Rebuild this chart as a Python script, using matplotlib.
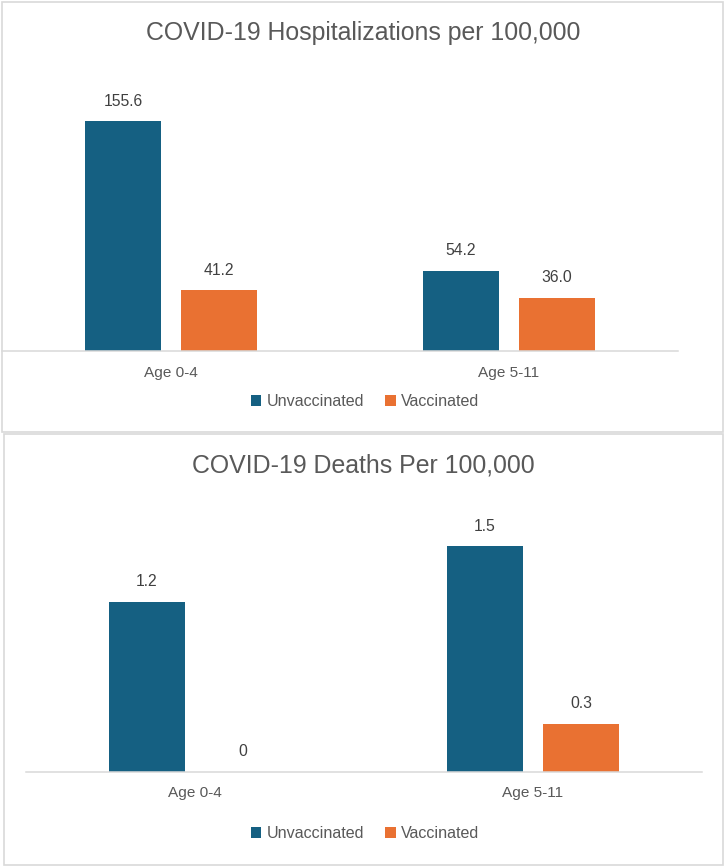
import matplotlib
matplotlib.use("Agg")
import matplotlib.pyplot as plt
from matplotlib.patches import Rectangle, Patch
import numpy as np

plt.rcParams['font.family'] = ['Liberation Sans', 'DejaVu Sans']

categories = ["Age 0-4", "Age 5-11"]
series_names = ["Unvaccinated", "Vaccinated"]

hosp_unvacc = [155.6, 54.2]
hosp_vacc = [41.2, 36.0]
hosp_unvacc_labels = ["155.6", "54.2"]
hosp_vacc_labels = ["41.2", "36.0"]

death_unvacc = [1.16, 1.54]
death_vacc = [0.0, 0.33]
death_unvacc_labels = ["1.2", "1.5"]
death_vacc_labels = ["0", "0.3"]

title_top = "COVID-19 Hospitalizations per 100,000"
title_bottom = "COVID-19 Deaths Per 100,000"

C_UN = "#156082"
C_VA = "#E97132"
GRID = "#d9d9d9"
TXT = "#595959"
LBL = "#404040"

W, H = 726, 866
fig = plt.figure(figsize=(W / 100, H / 100), dpi=100)


def fx(px):
    return px / W


def fy(py):
    return 1 - py / H


# panel borders
for (x0, y0, x1, y1) in [(2, 2, 723, 432), (4, 434, 723, 865)]:
    fig.patches.append(Rectangle((fx(x0), fy(y1)), fx(x1) - fx(x0), fy(y0) - fy(y1),
                                 transform=fig.transFigure, fill=False,
                                 edgecolor=GRID, linewidth=1.2, zorder=0))


def panel(left, right, axis_y, top_y, ymax, un, va, un_lab, va_lab, title, title_y,
          cat_y, leg_y):
    ax = fig.add_axes([fx(left), fy(axis_y), fx(right) - fx(left), fy(top_y) - fy(axis_y)])
    x = np.arange(len(categories))
    bw = 76 / 338
    off = 48 / 338
    b1 = ax.bar(x - off, un, bw, color=C_UN, zorder=2)
    b2 = ax.bar(x + off, va, bw, color=C_VA, zorder=2)
    for bars, labs in [(b1, un_lab), (b2, va_lab)]:
        for r, lab in zip(bars, labs):
            ax.annotate(lab, (r.get_x() + r.get_width() / 2, r.get_height()),
                        xytext=(0, 14.4), textcoords="offset points",
                        ha="center", va="center", fontsize=11.3, color=LBL)
    ax.set_xlim(-0.5, len(categories) - 0.5)
    ax.set_ylim(0, ymax)
    for s in ["top", "right", "left"]:
        ax.spines[s].set_visible(False)
    ax.spines["bottom"].set_color(GRID)
    ax.spines["bottom"].set_linewidth(1.1)
    ax.set_yticks([])
    ax.set_xticks(x)
    ax.set_xticklabels(categories, fontsize=11.1, color=TXT)
    ax.tick_params(axis="x", length=0, pad=(cat_y - axis_y - 7.5) * 0.72)
    ax.patch.set_alpha(0)
    fig.text(0.5, fy(title_y), title, ha="center", va="center",
             fontsize=17.9, color=TXT)
    handles = [Patch(facecolor=C_UN), Patch(facecolor=C_VA)]
    fig.legend(handles, series_names, loc="center", ncol=2,
               bbox_to_anchor=(fx(365), fy(leg_y)), frameon=False,
               fontsize=11.6, labelcolor=TXT, handlelength=0.65, handleheight=0.65,
               handletextpad=0.35, columnspacing=1.3, borderpad=0)
    return ax


panel(2, 678, 351, 85, 180, hosp_unvacc, hosp_vacc, hosp_unvacc_labels,
      hosp_vacc_labels, title_top, 33, 373, 402)
panel(26, 702, 772, 508, 1.8 * 1.54 / 1.54, death_unvacc, death_vacc,
      death_unvacc_labels, death_vacc_labels, title_bottom, 466, 794, 834)

fig.savefig("out.png", dpi=100, facecolor="white")
